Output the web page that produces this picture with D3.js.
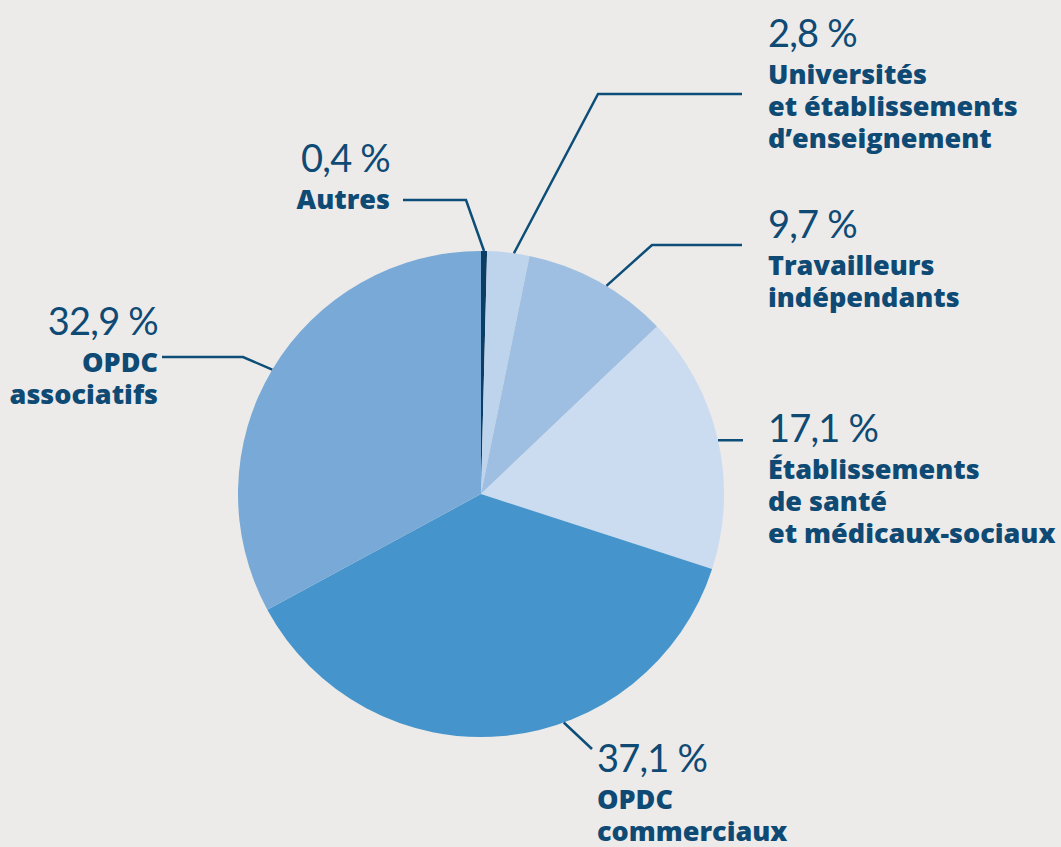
<!DOCTYPE html>
<html lang="fr">
<head>
<meta charset="UTF-8" />
<title>Répartition</title>
<script src="https://d3js.org/d3.v7.min.js"></script>
<style>
  html, body { margin: 0; padding: 0; background: #ecebe9; }
  svg { display: block; }
  .pct { font-family: Lato, "Open Sans", sans-serif; font-weight: 400; font-size: 38px; letter-spacing: -0.8px; fill: #0e4a74; }
  .lbl { font-family: "Open Sans", Lato, sans-serif; font-weight: 800; font-size: 27px; fill: #0e4a74; }
  .lead { fill: none; stroke: #0d4e79; stroke-width: 2.5; }
</style>
</head>
<body>
<script>
// données
var categories = ["Autres", "Universités", "Travailleurs", "Santé", "Commerciaux", "Associatifs"];
var values = [0.4, 2.8, 9.7, 17.1, 37.1, 32.9];
var pctLabels = ["0,4 %", "2,8 %", "9,7 %", "17,1 %", "37,1 %", "32,9 %"];
var nameLines = [
  ["Autres"],
  ["Universités", "et établissements", "d’enseignement"],
  ["Travailleurs", "indépendants"],
  ["Établissements", "de santé", "et médicaux-sociaux"],
  ["OPDC", "commerciaux"],
  ["OPDC", "associatifs"]
];
var colors = ["#0c3d63", "#bed3ec", "#9fbfe2", "#cbdbf0", "#4594cb", "#79a9d7"];

// mise en page des étiquettes (position dans la part, coude, fin de trait, texte)
var layout = [
  { at: 0.5,  elbow: [466, 200], end: [403, 200], tx: 390, ty: 172, anchor: "end" },
  { at: 0.63, elbow: [598, 94],  end: [742, 94],  tx: 768, ty: 47,  anchor: "start" },
  { at: 0.56, elbow: [652, 245], end: [742, 245], tx: 768, ty: 238, anchor: "start" },
  { at: 0.5,  elbow: null,       end: [743, null], tx: 768, ty: 442, anchor: "start" },
  { at: 0.39, elbow: null,       end: [592, 749], tx: 597, ty: 772, anchor: "start" },
  { at: 0.5,  elbow: [243, 357], end: [162, 357], tx: 158, ty: 335, anchor: "end" }
];

var width = 1061, height = 847;
var cx = 481, cy = 494, r = 243;

var svg = d3.select("body").append("svg").attr("width", width).attr("height", height);

var pie = d3.pie().sort(null).value(function(d) { return d; });
var arcs = pie(values);
var arc = d3.arc().innerRadius(0).outerRadius(r);

var g = svg.append("g").attr("transform", "translate(" + cx + "," + cy + ")");
g.selectAll("path.slice").data(arcs).enter().append("path")
  .attr("class", "slice")
  .attr("d", arc)
  .attr("fill", function(d, i) { return colors[i]; });

// traits de rappel + étiquettes
arcs.forEach(function(a, i) {
  var L = layout[i];
  var ang = a.startAngle + (a.endAngle - a.startAngle) * L.at;
  var p0 = [cx + r * Math.sin(ang), cy - r * Math.cos(ang)];
  var pts = [p0];
  if (L.elbow) pts.push(L.elbow);
  pts.push([L.end[0], L.end[1] == null ? p0[1] : L.end[1]]);
  svg.append("path").attr("class", "lead").attr("d", d3.line()(pts));

  svg.append("text").attr("class", "pct")
    .attr("x", L.tx).attr("y", L.ty)
    .attr("text-anchor", L.anchor)
    .text(pctLabels[i]);

  // une seule balise texte, une ligne par tspan
  var t = svg.append("text").attr("class", "lbl")
    .attr("x", L.tx).attr("y", L.ty + 37)
    .attr("text-anchor", L.anchor);
  nameLines[i].forEach(function(s, k) {
    t.append("tspan")
      .attr("x", L.tx)
      .attr("dy", k === 0 ? 0 : 32)
      .text(s);
  });
});
</script>
</body>
</html>
